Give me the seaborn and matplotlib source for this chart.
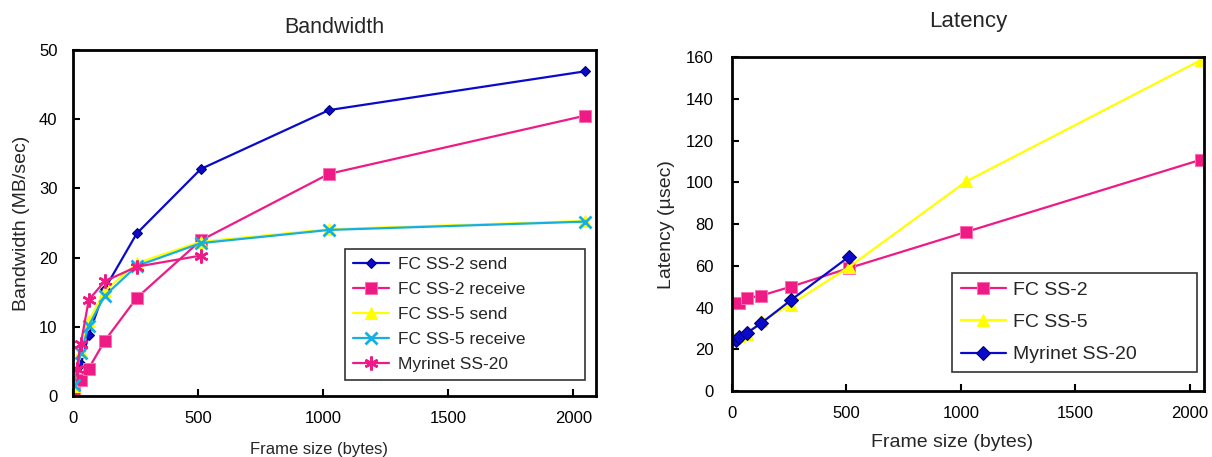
import pandas as pd
import matplotlib
matplotlib.use('Agg')
import matplotlib.pyplot as plt
import seaborn as sns

# Frame sizes (bytes)
sizes = [4, 32, 64, 128, 256, 512, 1024, 2048]
myri_sizes = [16, 32, 64, 128, 256, 512]

# Bandwidth (MB/sec)
fc2_send = [1.2, 4.6, 8.8, 15.5, 23.5, 32.8, 41.3, 46.9]
fc2_recv = [0.5, 2.3, 4.0, 8.0, 14.2, 22.5, 32.1, 40.5]
fc5_send = [1.5, 6.5, 10.8, 15.2, 19.2, 22.3, 24.1, 25.3]
fc5_recv = [1.6, 6.2, 10.2, 14.5, 18.8, 22.1, 24.0, 25.2]
myri_bw = [4.0, 7.5, 13.9, 16.6, 18.7, 20.3]

# Latency (usec)
lat_sizes = [4, 32, 64, 128, 256, 512, 1024, 2048]
lat_fc2 = [42.0, 42.2, 44.5, 45.8, 50.0, 59.0, 76.3, 110.8]
lat_fc5 = [25.4, 26.3, 27.5, 33.5, 41.5, 59.5, 100.5, 158.5]
lat_myri = [24.4, 26.0, 27.8, 32.6, 43.5, 64.5]

BLUE = '#0A0ACC'
PINK = '#EE1A85'
PINK_EDGE = '#FF6EB4'
YELLOW = '#FFFF00'
CYAN = '#18AEDF'

sns.set_style('white')
plt.rcParams['font.family'] = ['Liberation Sans', 'DejaVu Sans']

fig = plt.figure(figsize=(12.12, 4.57), dpi=100)
ax1 = fig.add_axes([0.060, 0.133, 0.432, 0.758])
ax2 = fig.add_axes([0.604, 0.144, 0.389, 0.731])

# ---------- Bandwidth ----------
bw_series = [
    ('FC SS-2 send', sizes, fc2_send, BLUE, dict(marker='D', markersize=5, markerfacecolor=BLUE, markeredgecolor='#000066')),
    ('FC SS-2 receive', sizes, fc2_recv, PINK, dict(marker='s', markersize=9, markerfacecolor=PINK, markeredgecolor=PINK_EDGE)),
    ('FC SS-5 send', sizes, fc5_send, YELLOW, dict(marker='^', markersize=9, markerfacecolor=YELLOW, markeredgecolor=YELLOW)),
    ('FC SS-5 receive', sizes, fc5_recv, CYAN, dict(marker='x', markersize=9, markeredgewidth=2, markeredgecolor=CYAN)),
    ('Myrinet SS-20', myri_sizes, myri_bw, PINK, dict(marker=(6, 2, 0), markersize=10, markeredgewidth=1.8, markeredgecolor=PINK)),
]
for name, x, y, col, mk in bw_series:
    df = pd.DataFrame({'x': x, 'y': y})
    sns.lineplot(data=df, x='x', y='y', ax=ax1, color=col, linewidth=1.6, label=name, **mk)

ax1.set_xlim(0, 2092)
ax1.set_ylim(0, 50)
ax1.set_xticks([0, 500, 1000, 1500, 2000])
ax1.set_yticks([0, 10, 20, 30, 40, 50])
ax1.set_title('Bandwidth', fontsize=15.5, pad=12)
ax1.set_xlabel('Frame size (bytes)', fontsize=12, labelpad=11)
ax1.xaxis.label.set_x(0.47)
ax1.set_ylabel('Bandwidth (MB/sec)', fontsize=14, labelpad=6)
leg1 = ax1.legend(loc='lower left', bbox_to_anchor=(0.52, 0.046, 0.459, 0.3), mode='expand',
                  fontsize=12.5, frameon=True, fancybox=False, edgecolor='black',
                  borderpad=0.45, labelspacing=0.58, handlelength=2.1, handletextpad=0.5,
                  borderaxespad=0)
leg1.get_frame().set_linewidth(1.2)

# ---------- Latency ----------
lat_series = [
    ('FC SS-2', lat_sizes, lat_fc2, PINK, dict(marker='s', markersize=9, markerfacecolor=PINK, markeredgecolor=PINK_EDGE)),
    ('FC SS-5', lat_sizes, lat_fc5, YELLOW, dict(marker='^', markersize=9, markerfacecolor=YELLOW, markeredgecolor=YELLOW)),
    ('Myrinet SS-20', myri_sizes, lat_myri, BLUE, dict(marker='D', markersize=7, markerfacecolor=BLUE, markeredgecolor='#000066')),
]
for name, x, y, col, mk in lat_series:
    df = pd.DataFrame({'x': x, 'y': y})
    sns.lineplot(data=df, x='x', y='y', ax=ax2, color=col, linewidth=1.6, label=name, **mk)

ax2.set_xlim(0, 2061)
ax2.set_ylim(0, 160)
ax2.set_xticks([0, 500, 1000, 1500, 2000])
ax2.set_yticks(range(0, 161, 20))
ax2.set_title('Latency', fontsize=16, pad=22)
ax2.set_xlabel('Frame size (bytes)', fontsize=14, labelpad=9)
ax2.xaxis.label.set_x(0.467)
ax2.set_ylabel('Latency (\u00b5sec)', fontsize=14, labelpad=8)
leg2 = ax2.legend(loc='lower left', bbox_to_anchor=(0.467, 0.057, 0.52, 0.3), mode='expand',
                  fontsize=14, frameon=True, fancybox=False, edgecolor='black',
                  borderpad=0.45, labelspacing=0.75, handlelength=2.3, handletextpad=0.4,
                  borderaxespad=0)
leg2.get_frame().set_linewidth(1.2)

for ax, pad_x, pad_y in ((ax1, 11, 11), (ax2, 11, 13)):
    for sp in ax.spines.values():
        sp.set_visible(True)
        sp.set_color('black')
        sp.set_linewidth(2)
    ax.tick_params(direction='in', length=5, width=1.5, labelsize=12,
                   bottom=True, left=True, colors='black')
    ax.tick_params(axis='x', pad=pad_x)
    ax.tick_params(axis='y', pad=pad_y)
    ax.grid(False)

fig.savefig('out.png', dpi=100)
